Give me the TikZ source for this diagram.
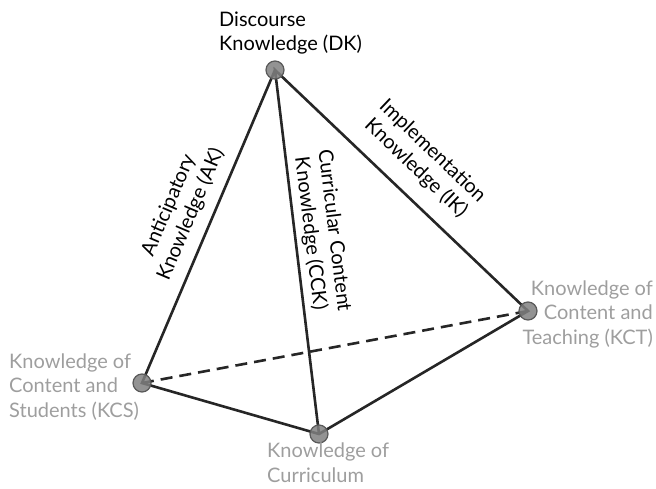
\documentclass[tikz,border=0pt]{standalone}
\usepackage{fontspec}
\setmainfont{Lato}
\begin{document}
\begin{tikzpicture}[x=1pt,y=-1pt,
  vtx/.style={circle,minimum size=18pt,inner sep=0pt,fill=black!50,draw=black!65,line width=1.2pt,fill opacity=0.85},
  edge/.style={line width=2.6pt,black!85},
  lbl/.style={font=\fontsize{20}{24}\selectfont,align=center,inner sep=0pt},
  glbl/.style={font=\fontsize{20}{24.5}\selectfont,text=black!38,inner sep=0pt}]
\useasboundingbox (0,0) rectangle (656,489);
\coordinate (DK) at (275,70);
\coordinate (KCS) at (142,383);
\coordinate (KC) at (319,434);
\coordinate (KCT) at (528,311);
\draw[edge,dashed,dash pattern=on 12pt off 7pt] (KCS) -- (KCT);
\draw[edge] (DK) -- (KCS) -- (KC) -- (KCT) -- (DK) -- (KC);
\node[vtx] (nDK) at (DK) {};
\node[vtx] (nKCS) at (KCS) {};
\node[vtx] (nKC) at (KC) {};
\node[vtx] (nKCT) at (KCT) {};
\node[lbl,align=left,anchor=north west] (tDK) at (219,12) {Discourse\\Knowledge (DK)};
\node[glbl,align=left,anchor=west] (tKCS) at (9,387) {Knowledge of\\Content and\\Students (KCS)};
\node[glbl,align=left,anchor=north west] (tKC) at (267,443) {Knowledge of\\Curriculum};
\node[glbl,align=right,anchor=east] (tKCT) at (653,314) {Knowledge of\\Content and\\Teaching (KCT)};
\node[lbl,rotate=67] (tAK) at (180,210) {Anticipatory\\Knowledge (AK)};
\node[lbl,rotate=-83] (tCCK) at (322,232) {Curricular Content\\Knowledge (CCK)};
\node[lbl,rotate=-43.6] (tIK) at (424,160) {Implementation\\Knowledge (IK)};
\end{tikzpicture}
\end{document}
